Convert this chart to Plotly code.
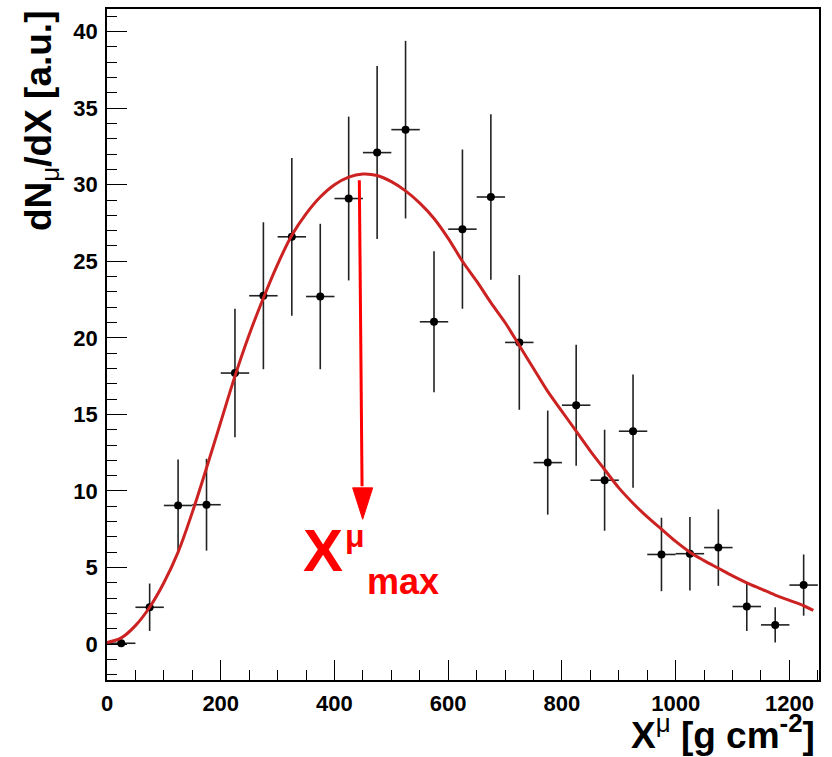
import plotly.graph_objects as go

# ---- data ----
bin_centers = [25, 75, 125, 175, 225, 275, 325, 375, 425, 475, 525, 575, 625,
               675, 725, 775, 825, 875, 925, 975, 1025, 1075, 1125, 1175, 1225]
counts = [0.05, 2.4, 9.05, 9.1, 17.7, 22.75, 26.6, 22.7, 29.1, 32.1, 33.6, 21.05, 27.1,
          29.2, 19.7, 11.85, 15.6, 10.7, 13.9, 5.85, 5.9, 6.3, 2.45, 1.25, 3.85]
count_err = [0.15, 1.55, 3.0, 3.0, 4.2, 4.8, 5.15, 4.75, 5.35, 5.65, 5.8, 4.6, 5.2,
             5.4, 4.4, 3.4, 3.95, 3.3, 3.7, 2.4, 2.4, 2.5, 1.6, 1.15, 2.0]
bin_half_width = [25] * len(bin_centers)

fit_x = [0, 25, 50, 75, 100, 125, 150, 175, 200, 225, 250, 275, 300, 325, 350, 375,
         400, 425, 450, 475, 500, 525, 550, 575, 600, 625, 650, 675, 700, 725, 750,
         775, 800, 825, 850, 875, 900, 925, 950, 975, 1000, 1025, 1050, 1075, 1100,
         1125, 1150, 1175, 1200, 1225, 1242]
fit_y = [0.1, 0.4, 1.2, 2.4, 4.0, 6.0, 8.6, 11.5, 14.5, 17.5, 20.2, 22.6, 24.8, 26.7,
         28.1, 29.2, 30.0, 30.5, 30.7, 30.6, 30.2, 29.6, 28.8, 27.8, 26.5, 25.0, 23.7,
         22.3, 21.0, 19.5, 18.0, 16.5, 15.2, 13.9, 12.6, 11.4, 10.2, 9.2, 8.3, 7.5,
         6.7, 6.0, 5.45, 4.95, 4.45, 4.0, 3.6, 3.2, 2.85, 2.5, 2.2]

xmax_line = [443.7, 448.5]      # arrow line x (top, bottom)
xmax_line_y = [30.3, 10.3]      # arrow line y (top, bottom)
xmax_tip = [449.6, 8.15]        # arrow tip

x_range = [0, 1252]
y_range = [-2.35, 41.48]

FONT = "Liberation Sans"

fig = go.Figure()

fig.add_trace(go.Scatter(
    x=bin_centers, y=counts, mode="markers",
    marker=dict(color="black", size=8),
    error_y=dict(type="data", array=count_err, color="#222222", thickness=1.6, width=0),
    error_x=dict(type="data", array=bin_half_width, color="#222222", thickness=1.6, width=0),
    showlegend=False, hoverinfo="skip",
))

fig.add_trace(go.Scatter(
    x=fit_x, y=fit_y, mode="lines",
    line=dict(color="#cc2222", width=3, shape="spline", smoothing=1.0),
    showlegend=False, hoverinfo="skip",
))

# arrow pointing to X_max
fig.add_shape(type="line", xref="x", yref="y",
              x0=xmax_line[0], y0=xmax_line_y[0], x1=xmax_line[1], y1=xmax_line_y[1],
              line=dict(color="#ff0000", width=3))
head_half = 17.6   # data units in x
head_len = 2.05    # data units in y
fig.add_shape(type="path", xref="x", yref="y",
              path=(f"M {xmax_tip[0]-head_half},{xmax_tip[1]+head_len} "
                    f"L {xmax_tip[0]+head_half},{xmax_tip[1]+head_len} "
                    f"L {xmax_tip[0]},{xmax_tip[1]} Z"),
              fillcolor="#ff0000", line=dict(color="#ff0000", width=1))

L, R, T, B = 107, 13, 9, 77
W, H = 832, 757
PW, PH = W - L - R, H - T - B


def px(xp):
    return (xp - L) / PW


def py(yp):
    return (H - B - yp) / PH


annotations = [
    # X^mu_max label
    dict(text="X", x=px(322.5), y=py(550), font=dict(family=FONT, size=60, color="#ff0000", weight="bold")),
    dict(text="μ", x=px(355), y=py(535.5), font=dict(family=FONT, size=32, color="#ff0000", weight="bold")),
    dict(text="max", x=px(403), y=py(581.5), font=dict(family=FONT, size=36, color="#ff0000", weight="bold")),
    # y axis title
    dict(text='dN<sub><span style="font-weight:normal">μ</span></sub>/dX [a.u.]',
         x=px(41), y=py(9), xanchor="center", yanchor="top", textangle=-90,
         font=dict(family=FONT, size=37, color="black", weight="bold")),
    # x axis title
    dict(text='X<sup><span style="font-weight:normal">μ</span></sup> [g cm<sup>-2</sup>]',
         x=px(817), y=py(732), xanchor="right", yanchor="middle",
         font=dict(family=FONT, size=37, color="black", weight="bold")),
]
for a in annotations:
    a.setdefault("xanchor", "center")
    a.setdefault("yanchor", "middle")
    a.update(xref="paper", yref="paper", showarrow=False)

fig.update_layout(
    width=W, height=H,
    margin=dict(l=L, r=R, t=T, b=B, autoexpand=False),
    plot_bgcolor="white", paper_bgcolor="white",
    annotations=annotations,
    xaxis=dict(range=x_range, showgrid=False, zeroline=False,
               showline=True, linecolor="black", linewidth=1.5, mirror=True,
               ticks="inside", ticklen=20, tickwidth=1.3, tickcolor="black",
               tick0=0, dtick=200,
               minor=dict(ticks="inside", ticklen=10, dtick=50, tickcolor="black", tickwidth=1.3),
               tickfont=dict(family=FONT, size=22, color="black", weight="bold"),
               ticklabelstandoff=3),
    yaxis=dict(range=y_range, showgrid=False, zeroline=False,
               showline=True, linecolor="black", linewidth=1.5, mirror=True,
               ticks="inside", ticklen=20, tickwidth=1.3, tickcolor="black",
               tick0=0, dtick=5,
               minor=dict(ticks="inside", ticklen=10, dtick=1, tickcolor="black", tickwidth=1.3),
               tickfont=dict(family=FONT, size=22, color="black", weight="bold"),
               ticklabelstandoff=3),
)

fig.write_html("out.html", config={"displayModeBar": False},
               post_script="document.body.style.margin='0px';")
